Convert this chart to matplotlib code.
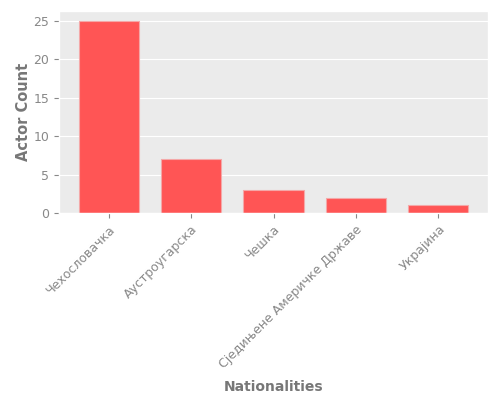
import matplotlib
matplotlib.use("Agg")
import matplotlib.pyplot as plt

nationalities = ["Чехословачка", "Аустроугарска", "Чешка",
                 "Сједињене Америчке Државе", "Украјина"]
actor_counts = [25, 7, 3, 2, 1]

plt.style.use("ggplot")

fig, ax = plt.subplots(figsize=(5, 4), dpi=100)
fig.subplots_adjust(left=0.118, right=0.976, top=0.9725, bottom=0.4675)
ax.set_facecolor("#ebebeb")

ax.bar(nationalities, actor_counts, width=0.73, color="#ff5555",
       edgecolor="#f4a8a8", linewidth=0.8)

ax.set_xlabel("Nationalities", fontsize=10, fontweight="bold", color="#777777",
              labelpad=7)
ax.set_ylabel("Actor Count", fontsize=10.5, fontweight="bold", color="#777777",
              labelpad=2)
ax.tick_params(axis="both", labelsize=9, colors="#888888")
plt.setp(ax.get_xticklabels(), rotation=45, ha="right", rotation_mode="anchor")
ax.grid(axis="x", visible=False)

fig.savefig("out.png", dpi=100)
